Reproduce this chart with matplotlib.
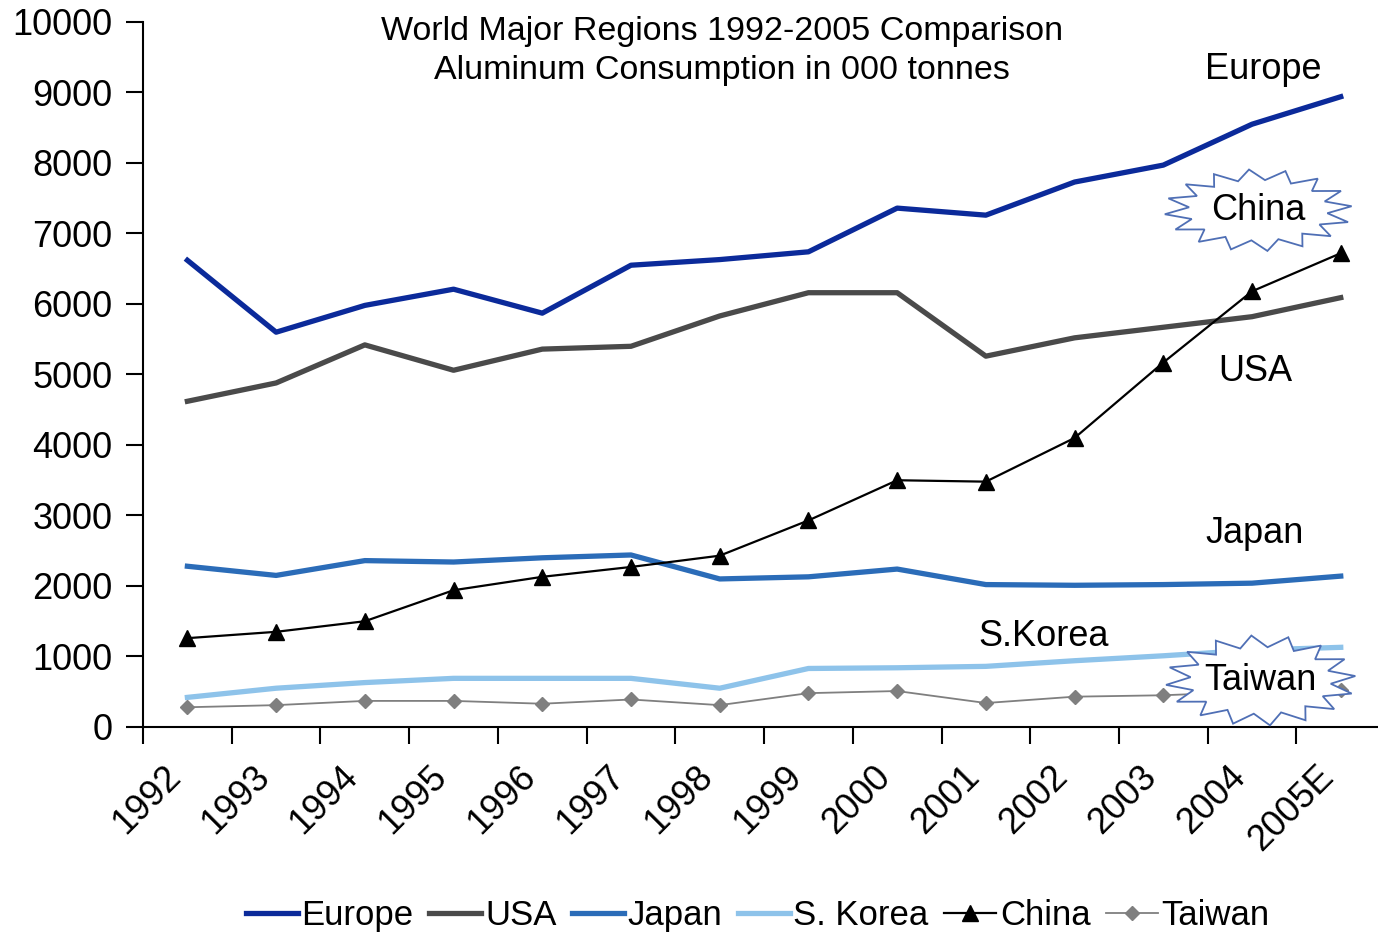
import numpy as np
import matplotlib
matplotlib.use("Agg")
import matplotlib.pyplot as plt
import matplotlib.transforms as mtransforms
from matplotlib.patches import Polygon

plt.rcParams['font.family'] = ['Liberation Sans', 'DejaVu Sans']

# aluminium consumption, thousand tonnes
years = ['1992', '1993', '1994', '1995', '1996', '1997', '1998',
         '1999', '2000', '2001', '2002', '2003', '2004', '2005E']
europe = [6620, 5600, 5980, 6210, 5870, 6550, 6630, 6740, 7360, 7260, 7730, 7970, 8550, 8940]
usa = [4620, 4880, 5420, 5060, 5360, 5400, 5830, 6160, 6160, 5260, 5520, 5670, 5820, 6090]
japan = [2280, 2150, 2360, 2340, 2400, 2440, 2100, 2130, 2240, 2020, 2010, 2020, 2040, 2140]
skorea = [420, 550, 630, 690, 690, 690, 550, 830, 840, 860, 940, 1010, 1090, 1130]
china = [1260, 1350, 1500, 1940, 2130, 2270, 2430, 2930, 3500, 3480, 4100, 5170, 6180, 6720]
taiwan = [280, 310, 370, 370, 330, 390, 310, 480, 510, 340, 430, 450, 500, 525]


def starburst(ax, cx, cy, rx, ry, n=16):
    # jagged "explosion" outline in axes fraction coords
    ang = np.linspace(0, 2 * np.pi, 2 * n, endpoint=False) + np.pi / (2 * n)
    r = np.where(np.arange(2 * n) % 2 == 0, 1.0, 0.74)
    pts = np.column_stack([cx + rx * r * np.cos(ang), cy + ry * r * np.sin(ang)])
    ax.add_patch(Polygon(pts, closed=True, transform=ax.transAxes,
                         facecolor='white', edgecolor='#4f6fb5', lw=1.3, zorder=5))


fig = plt.figure(figsize=(13.78, 9.36), dpi=100)
ax = fig.add_axes([0.1038, 0.2233, 0.8962, 0.7532])

x = np.arange(len(years))
ax.plot(x, europe, color='#0b2a9a', lw=3.8, label='Europe')
ax.plot(x, usa, color='#4a4a4a', lw=3.8, label='USA')
ax.plot(x, japan, color='#2b6cb8', lw=3.8, label='Japan')
ax.plot(x, skorea, color='#8ec3ea', lw=3.8, label='S. Korea')
ax.plot(x, china, color='black', lw=1.6, marker='^', ms=11, label='China')
ax.plot(x, taiwan, color='#7f7f7f', lw=1.3, marker='D', ms=7.5, label='Taiwan')

ax.set_ylim(0, 10000)
ax.set_xlim(-0.5, 13.42)
ax.set_yticks(np.arange(0, 10001, 1000))
ax.set_xticks(np.arange(-0.5, 13.5, 1))
ax.set_xticklabels([])
ax.set_xticks(x, minor=True)
ax.set_xticklabels(years, minor=True, rotation=45, ha='right', va='center',
                   rotation_mode='anchor', fontsize=26)
ax.tick_params(axis='x', which='minor', length=0, pad=32)
ax.tick_params(axis='x', which='major', length=12, width=1.5, direction='out')
ax.tick_params(axis='y', length=12, width=1.5, pad=10, labelsize=26)
shift = mtransforms.ScaledTranslation(-12 / 100, 0, fig.dpi_scale_trans)
for lab in ax.get_xticklabels(minor=True):
    lab.set_transform(lab.get_transform() + shift)
for s in ['top', 'right']:
    ax.spines[s].set_visible(False)
for s in ['left', 'bottom']:
    ax.spines[s].set_linewidth(1.5)

ax.text(0.469, 0.959, 'World Major Regions 1992-2005 Comparison\nAluminum Consumption in 000 tonnes',
        transform=ax.transAxes, ha='center', va='center', fontsize=24.5, linespacing=1.33)

# series labels placed by the lines
ax.text(12.13, 9320, 'Europe', ha='center', va='center', fontsize=26)
ax.text(12.04, 5040, 'USA', ha='center', va='center', fontsize=26)
ax.text(12.03, 2750, 'Japan', ha='center', va='center', fontsize=26)
ax.text(9.65, 1290, 'S.Korea', ha='center', va='center', fontsize=26)

starburst(ax, 0.903, 0.733, 0.076, 0.058)
ax.text(0.903, 0.733, 'China', transform=ax.transAxes, ha='center', va='center',
        fontsize=26, zorder=6)
starburst(ax, 0.905, 0.066, 0.077, 0.064)
ax.text(0.905, 0.066, 'Taiwan', transform=ax.transAxes, ha='center', va='center',
        fontsize=26, zorder=6)

fig.legend(loc='center', bbox_to_anchor=(0.55, 0.022), ncol=6, frameon=False,
           fontsize=25, handlelength=1.5, handletextpad=0.1, columnspacing=0.45)

fig.savefig('out.png', dpi=100)
